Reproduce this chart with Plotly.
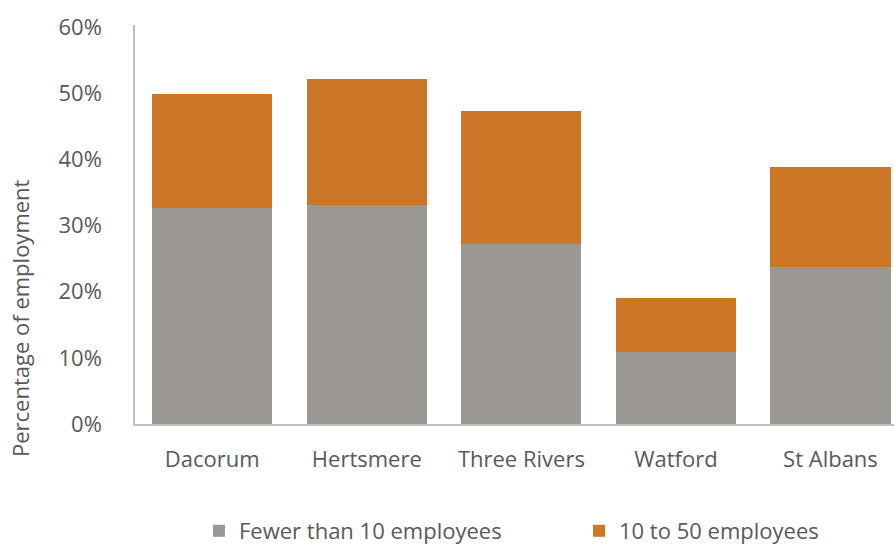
import plotly.graph_objects as go

categories = ["Dacorum", "Hertsmere", "Three Rivers", "Watford", "St Albans"]
fewer_than_10 = [32.7, 33.1, 27.2, 10.95, 23.7]
ten_to_50 = [17.2, 19.0, 20.1, 8.15, 15.2]
series_names = ["Fewer than 10 employees", "10 to 50 employees"]
y_ticks = [0, 10, 20, 30, 40, 50, 60]
y_tick_labels = ["0%", "10%", "20%", "30%", "40%", "50%", "60%"]

GRAY = "#9B9793"
ORANGE = "#CC7628"
TEXT = "#595959"
FONT = "Open Sans, sans-serif"
FS = 22

fig = go.Figure()
fig.add_trace(go.Bar(x=categories, y=fewer_than_10, name=series_names[0],
                     marker=dict(color=GRAY, line=dict(width=0)), legend="legend"))
fig.add_trace(go.Bar(x=categories, y=ten_to_50, name=series_names[1],
                     marker=dict(color=ORANGE, line=dict(width=0)), legend="legend2"))

legend_common = dict(orientation="h", xref="container", yref="container",
                     xanchor="left", yanchor="middle",
                     font=dict(size=FS, color=TEXT), bgcolor="rgba(0,0,0,0)",
                     itemsizing="constant")

fig.update_layout(
    width=894, height=545,
    barmode="stack", bargap=0.223,
    plot_bgcolor="white", paper_bgcolor="white",
    margin=dict(l=135, r=0, t=25, b=121, autoexpand=False),
    font=dict(family=FONT, size=FS, color=TEXT),
    showlegend=True,
    legend=dict(x=199 / 894, y=14 / 545, **legend_common),
    legend2=dict(x=579 / 894, y=14 / 545, **legend_common),
    xaxis=dict(range=[-0.5, 4.411], showline=True, linecolor="#BFBFBF", linewidth=2,
               ticks="", ticklabelstandoff=15, tickfont=dict(size=FS, color=TEXT),
               showgrid=False, zeroline=False, fixedrange=True, automargin=False),
    yaxis=dict(range=[0, 60.3], tickvals=y_ticks, ticktext=y_tick_labels,
               showline=True, linecolor="#BFBFBF", linewidth=1.5,
               ticks="", ticklabelstandoff=27, tickfont=dict(size=FS, color=TEXT),
               showgrid=False, zeroline=False, fixedrange=True, automargin=False),
    annotations=[dict(text="Percentage of employment", textangle=-90,
                      xref="paper", yref="paper", x=(20 - 135) / 759, y=(424 - 318) / 399,
                      xanchor="center", yanchor="middle", showarrow=False,
                      font=dict(size=FS, color=TEXT))],
)

fig.write_html("out.html", config={"displayModeBar": False},
               post_script="document.body.style.margin='0';document.body.style.padding='0';")
